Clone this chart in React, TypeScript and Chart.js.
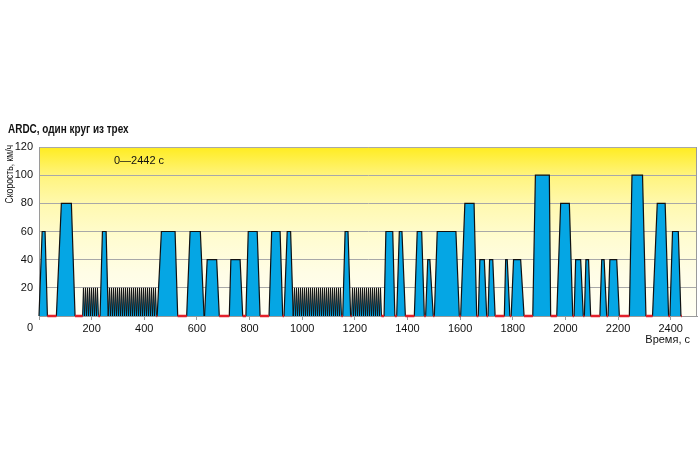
import { useEffect, useRef } from 'react';
import { Chart, registerables } from 'chart.js';

Chart.register(...registerables);

// ---- text ----
const titleText = 'ARDC, один круг из трех';
const yTitle = 'Скорость, км/ч';
const xTitle = 'Время, с';
const rangeNote = '0—2442 с';

// ---- axes ----
const xTicks = [0, 200, 400, 600, 800, 1000, 1200, 1400, 1600, 1800, 2000, 2200, 2400];
const yTicks = [0, 20, 40, 60, 80, 100, 120];
const xMax = 2500;
const yMax = 120;
const cycleEnd = 2442;

// ---- trapezoid phases: [start, reach speed, leave speed, stop], speed km/h ----
const peakTimes: number[][] = [
  [0, 12, 23, 32], [66, 85, 123, 137], [232, 241, 255, 263], [449, 465, 517, 527],
  [561, 574, 613, 627], [629, 639, 675, 685], [723, 729, 764, 774], [786, 795, 829, 840],
  [874, 884, 916, 926], [931, 943, 956, 966], [1154, 1163, 1174, 1184], [1311, 1318, 1344, 1352],
  [1359, 1369, 1379, 1392], [1426, 1437, 1454, 1464], [1469, 1477, 1485, 1498], [1502, 1513, 1584, 1597],
  [1602, 1618, 1653, 1663], [1669, 1675, 1692, 1701], [1706, 1712, 1724, 1733], [1768, 1773, 1779, 1789],
  [1794, 1803, 1830, 1843], [1876, 1886, 1939, 1944], [1967, 1982, 2015, 2028], [2033, 2039, 2058, 2068],
  [2072, 2078, 2088, 2096], [2131, 2138, 2147, 2157], [2162, 2169, 2195, 2205], [2243, 2253, 2293, 2306],
  [2331, 2349, 2379, 2392], [2397, 2407, 2429, 2439],
];
const peakSpeeds = [60, 80, 60, 60, 60, 40, 40, 60, 60, 60, 60, 60, 60, 60, 40, 60, 80, 40, 40, 40, 40, 100, 80, 40, 40, 40, 40, 100, 80, 60];

// ---- stop-and-go micro cycles (reference times, s) ----
const stopGo1 = [167.2, 174.8, 182.4, 190, 197.6, 205.2, 212.8, 220.4];
const stopGo2 = [266, 273.6, 281.2, 288.8, 296.4, 304, 311.6, 319.2, 326.8, 334.4, 342, 349.6, 357.2, 364.8, 372.4, 380, 387.6, 395.2, 402.8, 410.4, 418, 425.6, 433.2, 440.8];
const stopGo3 = [969, 976.6, 984.2, 991.8, 999.4, 1007, 1014.6, 1022.2, 1029.8, 1037.4, 1045, 1052.6, 1060.2, 1067.8, 1075.4, 1083, 1090.6, 1098.2, 1105.8, 1113.4, 1121, 1128.6, 1136.2, 1143.8];
const stopGo4 = [1189.4, 1197, 1204.6, 1212.2, 1219.8, 1227.4, 1235, 1242.6, 1250.2, 1257.8, 1265.4, 1273, 1280.6, 1288.2, 1295.8];
const stopGoSpeed = 20;
const stopGoPhase = [-1.6, 1.7, 2.2, 5.5]; // start, reach, leave, stop offsets (s)

const FONT = '"Liberation Sans", Arial, sans-serif';

function buildProfile() {
  const items: { t: number[]; v: number }[] = [];
  peakTimes.forEach((t, i) => items.push({ t, v: peakSpeeds[i] }));
  [...stopGo1, ...stopGo2, ...stopGo3, ...stopGo4].forEach((s) =>
    items.push({ t: stopGoPhase.map((o) => s + o), v: stopGoSpeed })
  );
  items.sort((a, b) => a.t[0] - b.t[0]);
  const pts: { x: number; y: number }[] = [];
  items.forEach((it) => {
    pts.push({ x: it.t[0], y: 0 }, { x: it.t[1], y: it.v }, { x: it.t[2], y: it.v }, { x: it.t[3], y: 0 });
  });
  pts.push({ x: cycleEnd, y: 0 });
  const idle: { x: number; y: number | null }[] = [];
  for (let i = 0; i < pts.length - 1; i++) {
    if (pts[i].y === 0 && pts[i + 1].y === 0 && pts[i + 1].x > pts[i].x) {
      idle.push({ x: pts[i].x, y: 0 }, { x: pts[i + 1].x, y: 0 }, { x: pts[i + 1].x, y: null });
    }
  }
  return { pts, idle };
}

const decor = {
  id: 'decor',
  beforeDraw(chart: any) {
    const { ctx, chartArea: a } = chart;
    const g = ctx.createLinearGradient(0, a.top, 0, a.bottom);
    g.addColorStop(0, '#ffec20');
    g.addColorStop(0.17, '#fff47e');
    g.addColorStop(0.35, '#fff9b2');
    g.addColorStop(0.55, '#fffcd2');
    g.addColorStop(0.75, '#fffde6');
    g.addColorStop(1, '#fffff4');
    ctx.save();
    ctx.fillStyle = g;
    ctx.fillRect(a.left, a.top, a.right - a.left, a.bottom - a.top);
    ctx.restore();
  },
  afterDatasetsDraw(chart: any) {
    const { ctx, chartArea: a } = chart;
    ctx.save();
    ctx.strokeStyle = '#9a9a9a';
    ctx.lineWidth = 1;
    ctx.beginPath();
    ctx.moveTo(a.right - 0.5, a.top);
    ctx.lineTo(a.right - 0.5, a.bottom);
    ctx.stroke();
    ctx.restore();
  },
  afterDraw(chart: any) {
    const { ctx, chartArea: a, scales } = chart;
    ctx.save();
    ctx.fillStyle = '#111';
    // chart title (condensed)
    ctx.save();
    ctx.font = 'bold 12px ' + FONT;
    ctx.textAlign = 'left';
    ctx.textBaseline = 'alphabetic';
    ctx.translate(8, 133);
    ctx.scale(0.83, 1);
    ctx.fillText(titleText, 0, 0);
    ctx.restore();
    // range note
    ctx.font = '11px ' + FONT;
    ctx.textAlign = 'center';
    ctx.textBaseline = 'middle';
    ctx.fillText(rangeNote, scales.x.getPixelForValue(380), scales.y.getPixelForValue(110));
    // origin label
    ctx.textBaseline = 'top';
    ctx.fillText(String(xTicks[0]), a.left - 9, a.bottom + 6);
    // x title
    ctx.textAlign = 'right';
    ctx.textBaseline = 'middle';
    ctx.font = '11px ' + FONT;
    ctx.fillText(xTitle, a.right - 7, a.bottom + 24);
    // y title
    ctx.save();
    ctx.font = '10px ' + FONT;
    ctx.translate(10, a.top - 2);
    ctx.rotate(-Math.PI / 2);
    ctx.scale(0.86, 1);
    ctx.textAlign = 'right';
    ctx.textBaseline = 'middle';
    ctx.fillText(yTitle, 0, 0);
    ctx.restore();
    ctx.restore();
  },
};

export default function App() {
  const ref = useRef<HTMLCanvasElement | null>(null);
  useEffect(() => {
    if (!ref.current) return;
    const { pts, idle } = buildProfile();
    const chart = new Chart(ref.current, {
      type: 'line',
      data: {
        datasets: [
          {
            label: 'idle',
            data: idle as any,
            borderColor: '#e3202a',
            borderWidth: 2.5,
            pointRadius: 0,
            fill: false,
            spanGaps: false,
            tension: 0,
            clip: false,
          },
          {
            label: 'speed',
            data: pts as any,
            borderColor: '#111',
            borderWidth: 1.2,
            backgroundColor: '#05a6e4',
            pointRadius: 0,
            fill: 'origin',
            tension: 0,
            clip: 2,
            segment: {
              borderWidth: (c: any) =>
                Math.max(c.p0.parsed.y, c.p1.parsed.y) <= stopGoSpeed ? 1.0 : undefined,
            },
          },
        ],
      },
      options: {
        animation: false,
        responsive: false,
        devicePixelRatio: 1,
        layout: { padding: { top: 147, right: 3, left: 0, bottom: 118 } },
        plugins: { legend: { display: false }, tooltip: { enabled: false }, title: { display: false } },
        scales: {
          x: {
            type: 'linear',
            min: 0,
            max: xMax,
            afterBuildTicks: (s: any) => { s.ticks = xTicks.map((v) => ({ value: v })); },
            afterFit: (s: any) => { s.height = 32; },
            ticks: {
              autoSkip: false,
              maxRotation: 0,
              padding: 2,
              color: '#111',
              font: { family: FONT, size: 11 },
              callback: (v: any) => (v === 0 ? '' : String(v)),
            },
            grid: { drawOnChartArea: false, drawTicks: true, tickLength: 4, color: '#9a9a9a' },
            border: { display: true, color: '#9a9a9a' },
            title: { display: false },
          },
          y: {
            min: 0,
            max: yMax,
            afterBuildTicks: (s: any) => { s.ticks = yTicks.map((v) => ({ value: v })); },
            afterFit: (s: any) => { s.width = 39; },
            ticks: {
              padding: 6,
              color: '#111',
              font: { family: FONT, size: 11 },
              callback: (v: any) => (v === 0 ? '' : String(v)),
            },
            grid: { drawTicks: false, color: '#a8a8a8' },
            border: { display: true, color: '#9a9a9a' },
            title: { display: false },
          },
        },
      },
      plugins: [decor],
    } as any);
    return () => chart.destroy();
  }, []);
  return (
    <div style={{ position: 'absolute', left: 0, top: 0, width: 700, height: 466, background: '#fff' }}>
      <canvas ref={ref} width={700} height={466} />
    </div>
  );
}
